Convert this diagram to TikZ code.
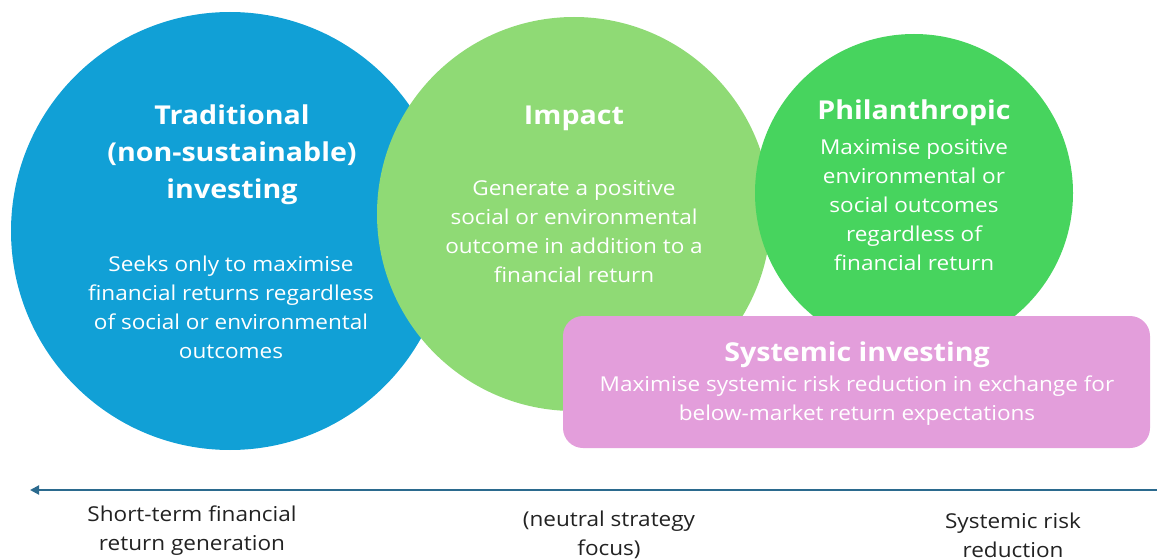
\documentclass[tikz,border=0pt]{standalone}
\usepackage{fontspec}
\setmainfont{Open Sans}[FakeStretch=1.1]
\usetikzlibrary{arrows.meta}
\definecolor{tradblue}{HTML}{11A0D6}
\definecolor{impgreen}{HTML}{8FDA75}
\definecolor{phigreen}{HTML}{47D45E}
\definecolor{syspink}{HTML}{E39EDB}
\definecolor{arrowblue}{HTML}{2B6A8E}
\definecolor{labelgray}{HTML}{222222}
\begin{document}
\begin{tikzpicture}[x=1pt,y=-1pt,
  bubble/.style={circle,inner sep=0pt,draw=none},
  ttl/.style={text=white,align=center,font=\fontsize{26}{37}\selectfont\bfseries},
  body/.style={text=white,align=center,font=\fontsize{20.5}{29}\selectfont},
  axislabel/.style={text=labelgray,align=center,font=\fontsize{20.5}{29}\selectfont}]
\path[use as bounding box] (0,0) rectangle (1157,559);
\node[bubble,fill=tradblue,minimum size=438pt] (trad) at (230,231) {};
\node[bubble,fill=impgreen,minimum size=394pt] (imp) at (574,214) {};
\node[bubble,fill=phigreen,minimum size=318pt] (phi) at (914,193) {};
\node[fill=syspink,rounded corners=20pt,minimum width=587pt,minimum height=132pt,inner sep=0pt] (sys) at (856.5,382) {};
% texts
\node[ttl] (tradT) at (232,155) {Traditional\\(non-sustainable)\\investing};
\node[body] (tradB) at (231,307) {Seeks only to maximise\\financial returns regardless\\of social or environmental\\outcomes};
\node[ttl] (impT) at (574,118) {Impact};
\node[body] (impB) at (574,232) {Generate a positive\\social or environmental\\outcome in addition to a\\financial return};
\node[ttl] (phiT) at (914,113) {Philanthropic};
\node[body] (phiB) at (914,205) {Maximise positive\\environmental or\\social outcomes\\regardless of\\financial return};
\node[ttl] (sysT) at (857,355) {Systemic investing};
\node[body] (sysB) at (857,401) {Maximise systemic risk reduction in exchange for\\below-market return expectations};
% axis
\coordinate (axR) at (1157,490);
\coordinate (axL) at (30,490);
\draw[arrowblue,line width=2pt,-{Triangle[length=9pt,width=9pt]}] (axR) -- (axL);
\node[axislabel] (lblL) at (192,531) {Short-term financial\\return generation};
\node[axislabel] (lblM) at (609,535) {(neutral strategy\\focus)};
\node[axislabel] (lblR) at (1013,535) {Systemic risk\\reduction};
\end{tikzpicture}
\end{document}
